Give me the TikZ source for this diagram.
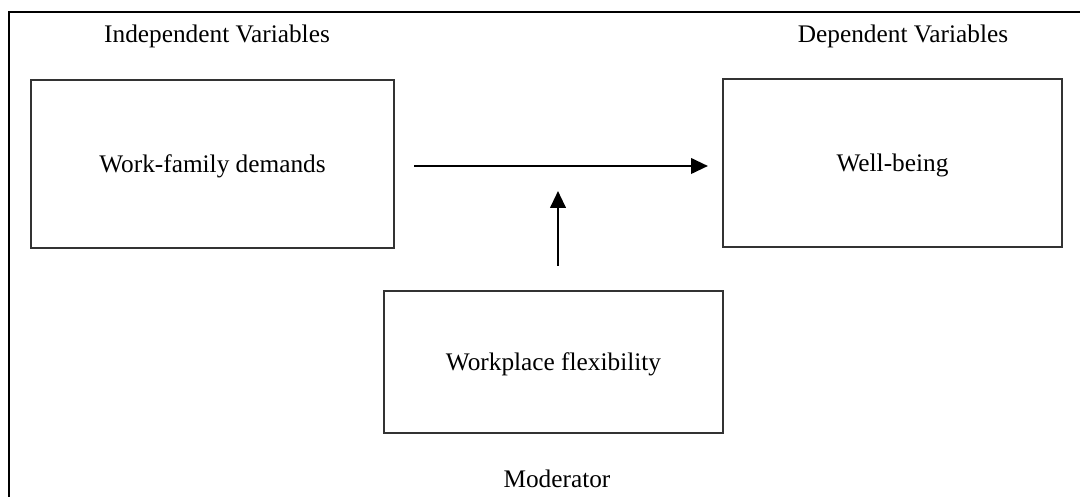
\documentclass[tikz,border=0pt]{standalone}
\usepackage{fontspec}
\setmainfont{Liberation Serif}
\usetikzlibrary{arrows.meta}
\begin{document}
\begin{tikzpicture}[x=0.025cm,y=-0.025cm,
  every node/.style={font=\fontsize{18}{21}\selectfont},
  varbox/.style={draw=black!80,line width=0.9pt,inner sep=0pt,outer sep=0pt,text depth=0pt},
  link/.style={line width=1.6pt,-{Triangle[length=12pt,width=11pt]}}]
\useasboundingbox (0,0) rectangle (1080,497);
%frame
\draw[line width=1.8pt] (9,497) -- (9,12) -- (1080,12);

%headings
\node (indep) at (217,43) [anchor=base] {Independent Variables};
\node (dep) at (903,43) [anchor=base] {Dependent Variables};
\node (moder) at (557,488) [anchor=base] {Moderator};

%boxes
\node (demands) at (212.5,164) [varbox,minimum width=9.075cm,minimum height=4.2cm] {Work-family demands};
\node (wellbeing) at (892.5,163) [varbox,minimum width=8.475cm,minimum height=4.2cm] {Well-being};
\node (flex) at (553.5,362) [varbox,minimum width=8.475cm,minimum height=3.55cm] {Workplace flexibility};

%arrows
\coordinate (mid) at (558,166);
\draw[link] (414,166) -- (wellbeing.west |- mid) [shorten >=15*0.025cm];
\draw[link,shorten <=25*0.025cm,shorten >=25*0.025cm] (flex.north -| mid) -- (mid);
\end{tikzpicture}
\end{document}
